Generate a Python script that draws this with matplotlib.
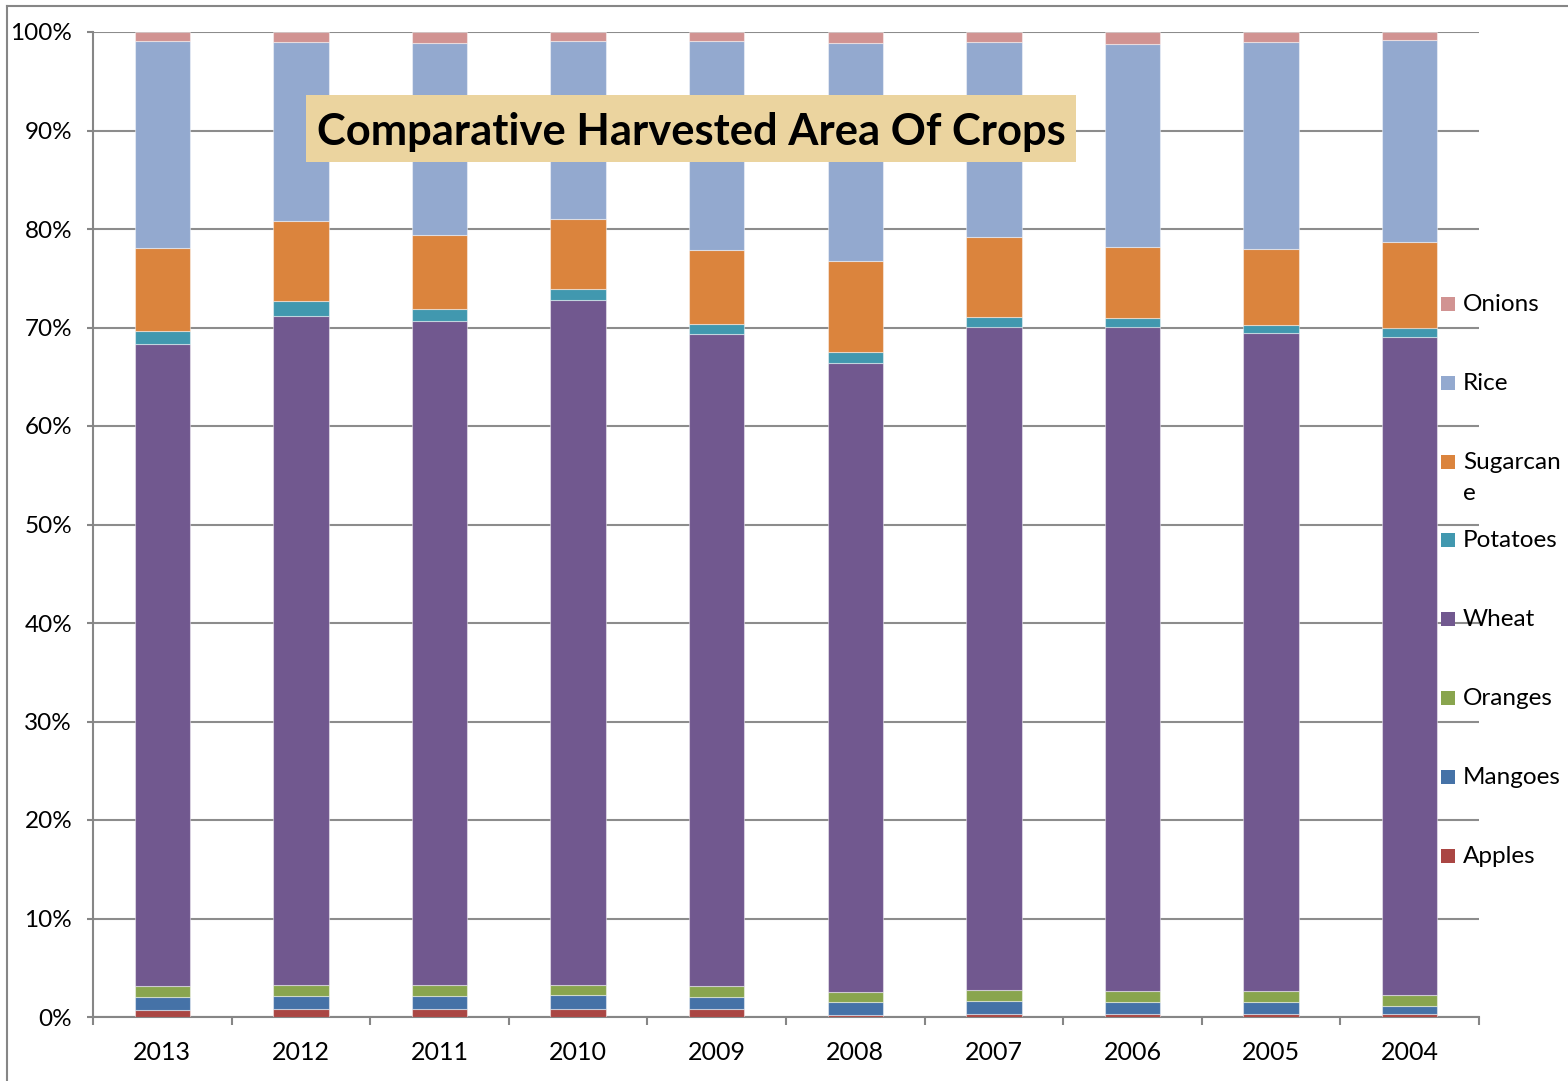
import matplotlib
matplotlib.use("Agg")
import matplotlib.pyplot as plt
import numpy as np
from matplotlib.patches import Rectangle
from matplotlib.lines import Line2D
from matplotlib.ticker import FixedLocator, FuncFormatter

years = ["2013", "2012", "2011", "2010", "2009", "2008", "2007", "2006", "2005", "2004"]
apples = [0.75, 0.82, 0.85, 0.82, 0.80, 0.25, 0.35, 0.35, 0.35, 0.35]
mangoes = [1.25, 1.33, 1.30, 1.38, 1.25, 1.30, 1.25, 1.20, 1.20, 0.75]
oranges = [1.10, 1.05, 1.05, 1.05, 1.05, 1.00, 1.10, 1.05, 1.05, 1.10]
wheat = [65.2, 68.0, 67.5, 69.55, 66.2, 63.85, 67.4, 67.5, 66.8, 66.8]
potatoes = [1.3, 1.5, 1.2, 1.1, 1.1, 1.1, 1.0, 0.9, 0.9, 0.9]
sugarcane = [8.5, 8.1, 7.5, 7.1, 7.5, 9.25, 8.1, 7.2, 7.7, 8.75]
rice = [20.95, 18.15, 19.45, 18.05, 21.15, 22.1, 19.75, 20.6, 20.95, 20.55]
onions = [0.95, 1.05, 1.15, 0.95, 0.95, 1.15, 1.05, 1.2, 1.05, 0.8]

series_names = ["Apples", "Mangoes", "Oranges", "Wheat", "Potatoes", "Sugarcane", "Rice", "Onions"]
legend_labels = ["Apples", "Mangoes", "Oranges", "Wheat", "Potatoes", "Sugarcan\ne", "Rice", "Onions"]
colors = ["#AA4643", "#4572A7", "#89A54E", "#71588F", "#4198AF", "#DB843D", "#93A9CF", "#D19392"]
title = "Comparative Harvested Area Of Crops"

data = np.array([apples, mangoes, oranges, wheat, potatoes, sugarcane, rice, onions], dtype=float)
data = data / data.sum(axis=0) * 100.0

W, H = 1568, 1081
fig = plt.figure(figsize=(W / 100, H / 100), dpi=100)
plt.rcParams['font.family'] = ['Lato', 'DejaVu Sans']

ax = fig.add_axes([93 / W, (H - 1017) / H, 1386 / W, 985 / H])
x = np.arange(len(years))
bottom = np.zeros(len(years))
for vals, col, name in zip(data, colors, series_names):
    ax.bar(x, vals, bottom=bottom, width=0.4, color=col, edgecolor=(1, 1, 1, 0.45),
           linewidth=0.8, label=name, zorder=3)
    bottom += vals

ax.set_xlim(-0.5, len(years) - 0.5)
ax.set_ylim(0, 100)
ax.set_yticks(np.arange(0, 101, 10))
ax.yaxis.set_major_formatter(FuncFormatter(lambda v, p: f"{int(v)}%"))
ax.set_xticks(x)
ax.set_xticklabels(years)
ax.xaxis.set_minor_locator(FixedLocator(np.arange(-0.5, len(years), 1.0)))
ax.tick_params(axis='x', which='major', length=0, pad=17, labelsize=18)
ax.tick_params(axis='x', which='minor', length=6, width=1.5, color='#868686', direction='out')
ax.tick_params(axis='y', which='major', length=4, width=1.5, color='#868686', pad=11, labelsize=17.5)
ax.grid(axis='y', color='#8C8C8C', linewidth=1.5, zorder=0)
ax.set_axisbelow(True)
for s in ['top', 'right']:
    ax.spines[s].set_visible(False)
for s in ['left', 'bottom']:
    ax.spines[s].set_color('#868686')
    ax.spines[s].set_linewidth(1.5)

# Legend (manual, Excel-style spacing)
leg_y = [856, 777, 698, 619, 540, 462, 383, 304]
for ly, col, lab in zip(leg_y, colors, legend_labels):
    fig.patches.append(Rectangle((1441 / W, (H - ly - 7) / H), 14 / W, 14 / H,
                                 transform=fig.transFigure, facecolor=col, edgecolor='none'))
    fig.text(1463 / W, (H - ly + 10) / H, lab, ha='left', va='top', fontsize=17.5,
             linespacing=1.6, color='black')

# Title box
fig.patches.append(Rectangle((306 / W, (H - 162) / H), 770 / W, 67 / H,
                             transform=fig.transFigure, facecolor='#EBD49F', edgecolor='none',
                             zorder=10))
fig.text(691 / W, (H - 132) / H, title, ha='center', va='center', fontsize=31.3,
         fontweight='bold', color='black', zorder=11)

# Outer chart border
fig.add_artist(Line2D([7 / W, 7 / W], [0, (H - 6) / H], transform=fig.transFigure,
                      color='#868686', linewidth=1.5))
fig.add_artist(Line2D([7 / W, 1], [(H - 6) / H, (H - 6) / H], transform=fig.transFigure,
                      color='#868686', linewidth=1.5))

fig.savefig("out.png", dpi=100)
